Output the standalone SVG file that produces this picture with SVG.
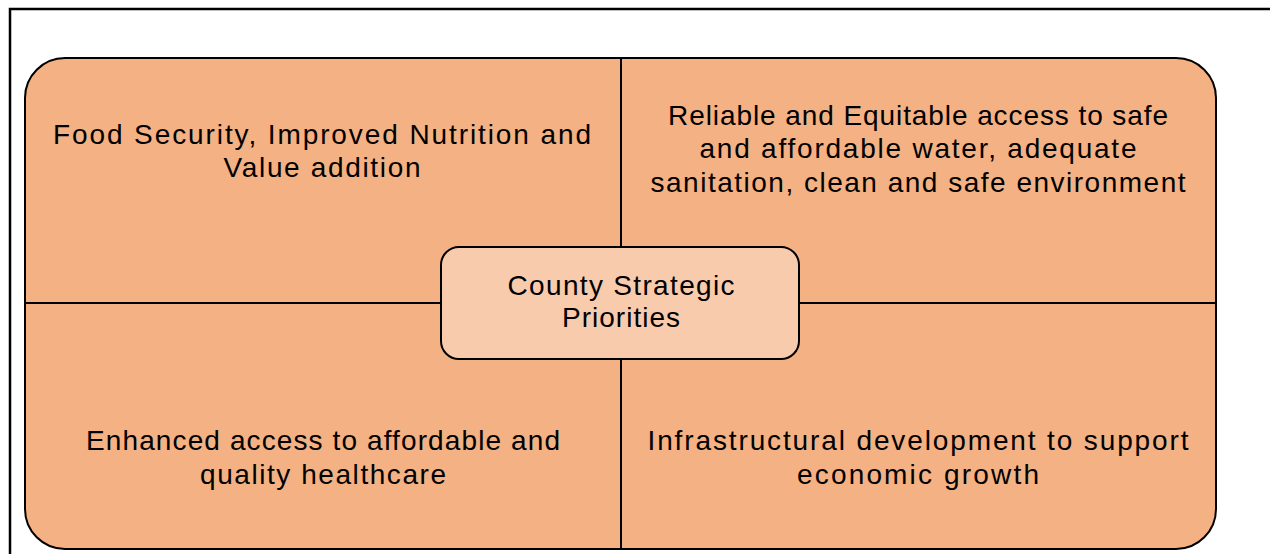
<svg xmlns="http://www.w3.org/2000/svg" width="1270" height="554" viewBox="0 0 1270 554">
  <style>
    .frame { fill: none; stroke: #000; stroke-width: 2.5; }
    .panel { fill: #F4B183; stroke: #000; stroke-width: 2; }
    .divider { stroke: #000; stroke-width: 2; fill: none; }
    .hub { fill: #F8CBAD; stroke: #000; stroke-width: 2; }
    .label { font-family: "Liberation Sans", Arial, sans-serif; font-size: 28px; fill: #000; text-anchor: middle; }
  </style>

  <!-- page frame (open to the right and bottom) -->
  <rect class="frame" x="10" y="9" width="1290" height="580"/>

  <!-- rounded panel holding the four priority areas -->
  <rect id="panel" class="panel" x="25" y="58" width="1191" height="491" rx="40" ry="40"/>

  <!-- quadrant dividers -->
  <g id="connectors">
    <line class="divider" x1="621" y1="58" x2="621" y2="549"/>
    <line class="divider" x1="25" y1="303" x2="1216" y2="303"/>
  </g>

  <g id="food-security">
    <text class="label" x="322" y="143.5" textLength="538" lengthAdjust="spacing">Food Security, Improved Nutrition and</text>
    <text class="label" x="322" y="177" textLength="197" lengthAdjust="spacing">Value addition</text>
  </g>

  <g id="water-sanitation">
    <text class="label" x="918" y="124.5" textLength="500" lengthAdjust="spacing">Reliable and Equitable access to safe</text>
    <text class="label" x="918" y="158" textLength="437" lengthAdjust="spacing">and affordable water, adequate</text>
    <text class="label" x="918" y="191.5" textLength="535" lengthAdjust="spacing">sanitation, clean and safe environment</text>
  </g>

  <g id="healthcare">
    <text class="label" x="323" y="450" textLength="474" lengthAdjust="spacing">Enhanced access to affordable and</text>
    <text class="label" x="323" y="483.5" textLength="246" lengthAdjust="spacing">quality healthcare</text>
  </g>

  <g id="infrastructure">
    <text class="label" x="918" y="450" textLength="541" lengthAdjust="spacing">Infrastructural development to support</text>
    <text class="label" x="918" y="483.5" textLength="242" lengthAdjust="spacing">economic growth</text>
  </g>

  <!-- central hub -->
  <g id="county-priorities">
    <rect class="hub" x="441" y="247" width="358" height="112" rx="18" ry="18"/>
    <text class="label" x="621" y="295" textLength="227" lengthAdjust="spacing">County Strategic</text>
    <text class="label" x="621" y="327" textLength="118" lengthAdjust="spacing">Priorities</text>
  </g>
</svg>
